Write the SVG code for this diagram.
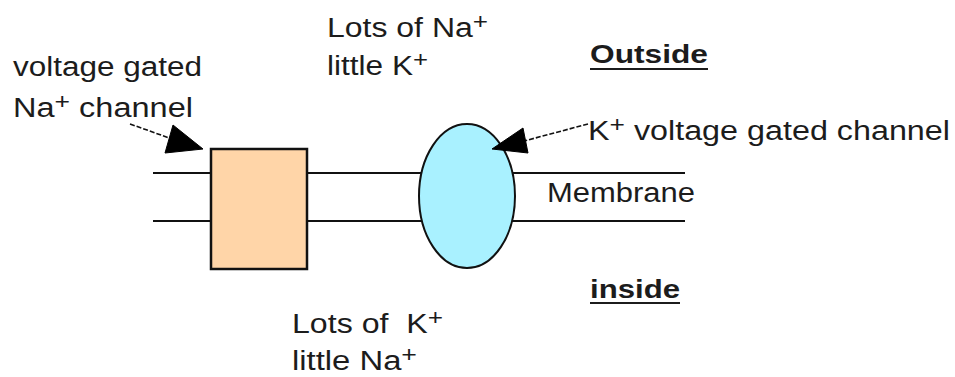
<svg xmlns="http://www.w3.org/2000/svg" width="955" height="377" viewBox="0 0 955 377">
<style>
  .t { font-family: "Liberation Sans", Arial, sans-serif; font-size: 27px; fill: #1c1c1c; }
  .b { font-weight: bold; font-size: 26px; }
  .sup { font-size: 22px; }
  .mem { stroke: #111; stroke-width: 2; fill: none; }
  .dash { stroke: #111; stroke-width: 1.6; stroke-dasharray: 5 2; fill: none; }
  .head { fill: #000; stroke: #000; stroke-width: 1; stroke-linejoin: round; }
  .ul { stroke: #1c1c1c; stroke-width: 2; }
</style>
<rect width="955" height="377" fill="#fff"/>
<g id="membrane">
  <line class="mem" x1="153" y1="173" x2="685" y2="173"/>
  <line class="mem" x1="153" y1="221" x2="685" y2="221"/>
  <text class="t" x="547" y="202" textLength="148" lengthAdjust="spacingAndGlyphs">Membrane</text>
</g>
<g id="na-channel">
  <rect x="211" y="149" width="96" height="120" fill="#FFD5A8" stroke="#111" stroke-width="2.5"/>
</g>
<g id="k-channel">
  <ellipse cx="467" cy="196" rx="48" ry="72" fill="#A9F1FF" stroke="#111" stroke-width="2"/>
</g>
<g id="connectors">
  <line class="dash" x1="130" y1="124" x2="175" y2="140"/>
  <polygon class="head" points="203,149 173,125 165,153"/>
  <line class="dash" x1="588" y1="124" x2="524" y2="141"/>
  <polygon class="head" points="492,149 523,128 528,153"/>
</g>
<g id="label-na-channel">
  <text class="t" x="13" y="76" textLength="189" lengthAdjust="spacingAndGlyphs">voltage gated</text>
  <text class="t" x="13" y="117" textLength="180" lengthAdjust="spacingAndGlyphs">Na<tspan class="sup" dy="-8">+</tspan><tspan dy="8"> channel</tspan></text>
</g>
<g id="label-outside-ions">
  <text class="t" x="327" y="37" textLength="161" lengthAdjust="spacingAndGlyphs">Lots of Na<tspan class="sup" dy="-8">+</tspan></text>
  <text class="t" x="327" y="75" textLength="101" lengthAdjust="spacingAndGlyphs">little K<tspan class="sup" dy="-8">+</tspan></text>
</g>
<g id="label-outside">
  <text class="t b" x="590" y="63" textLength="118" lengthAdjust="spacingAndGlyphs">Outside</text>
  <line class="ul" x1="590" y1="69" x2="708" y2="69"/>
</g>
<g id="label-k-channel">
  <text class="t" x="588" y="140" textLength="362" lengthAdjust="spacingAndGlyphs">K<tspan class="sup" dy="-8">+</tspan><tspan dy="8"> voltage gated channel</tspan></text>
</g>
<g id="label-inside">
  <text class="t b" x="590" y="298" textLength="90" lengthAdjust="spacingAndGlyphs">inside</text>
  <line class="ul" x1="590" y1="303" x2="680" y2="303"/>
</g>
<g id="label-inside-ions">
  <text class="t" x="292" y="333" textLength="151" lengthAdjust="spacingAndGlyphs" xml:space="preserve" style="white-space:pre">Lots of  K<tspan class="sup" dy="-8">+</tspan></text>
  <text class="t" x="292" y="370" textLength="125" lengthAdjust="spacingAndGlyphs">little Na<tspan class="sup" dy="-8">+</tspan></text>
</g>
</svg>
